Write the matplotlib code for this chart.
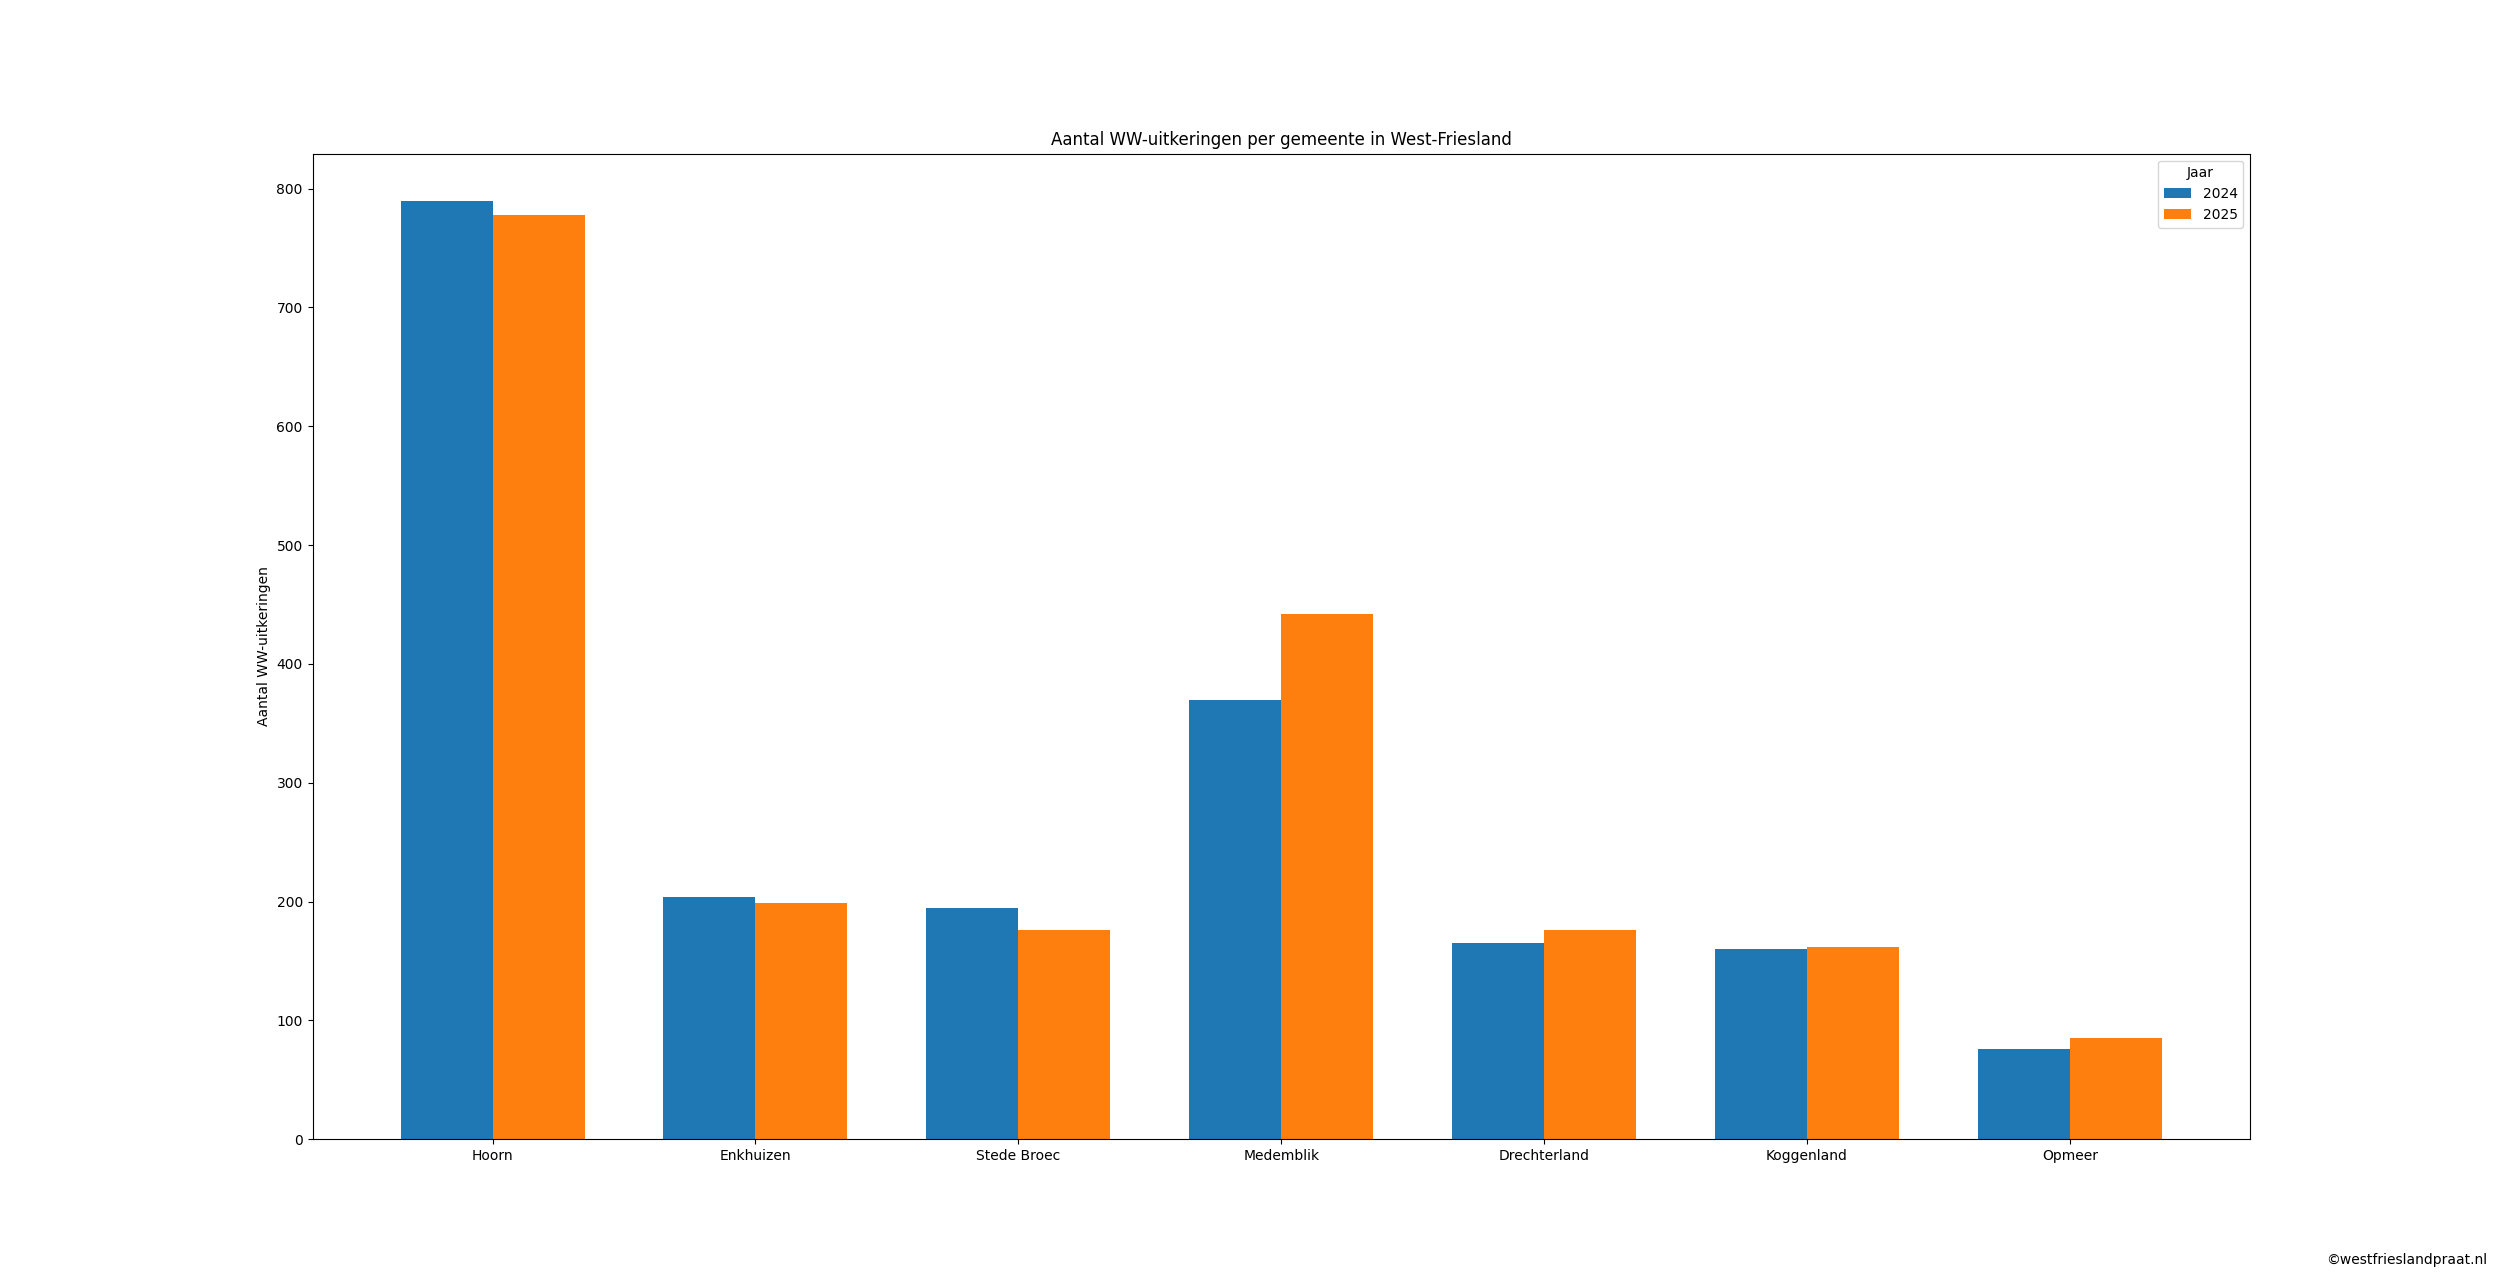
import numpy as np
import matplotlib.pyplot as plt

# gemeenten en aantallen WW-uitkeringen
gemeenten = ['Hoorn', 'Enkhuizen', 'Stede Broec', 'Medemblik', 'Drechterland', 'Koggenland', 'Opmeer']
ww_2024 = [790, 204, 195, 370, 165, 160, 76]
ww_2025 = [778, 199, 176, 442, 176, 162, 85]
jaren = ['2024', '2025']


def data_plot(save_name):
    fig, ax = plt.subplots(figsize=(25, 12.8), dpi=100)

    x = np.arange(len(gemeenten))
    breedte = 0.35

    ax.bar(x - breedte / 2, ww_2024, breedte, label=jaren[0])
    ax.bar(x + breedte / 2, ww_2025, breedte, label=jaren[1])

    ax.set_title('Aantal WW-uitkeringen per gemeente in West-Friesland')
    ax.set_ylabel('Aantal WW-uitkeringen')
    ax.set_xticks(x)
    ax.set_xticklabels(gemeenten)
    ax.legend(title='Jaar', loc='upper right')

    # watermerk rechtsonder
    fig.text(0.995, 0.01, '©westfrieslandpraat.nl', ha='right', va='bottom', fontsize=10)

    plt.savefig(save_name)


if __name__ == '__main__':
    data_plot('out.png')
